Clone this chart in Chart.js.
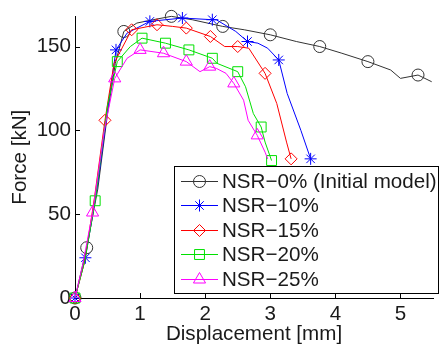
<!DOCTYPE html>
<html>
<head>
<meta charset="utf-8">
<script src="https://cdn.jsdelivr.net/npm/chart.js@4/dist/chart.umd.min.js"></script>
<style>
  html, body { margin: 0; padding: 0; background: #fff; }
  #wrap { width: 441px; height: 351px; }
</style>
</head>
<body>
<div id="wrap"><canvas id="forceChart" width="441" height="351"></canvas></div>
<script>
// displacement [mm] / force [kN]
const dispNSR0  = [0, 0.18, 0.35, 0.5, 0.62, 0.75, 0.95, 1.2, 1.48, 1.8, 2.27, 2.6, 3.0, 3.4, 3.76, 4.1, 4.5, 4.85, 5.0, 5.27, 5.48];
const forceNSR0 = [0, 30, 65, 110, 140, 159, 164, 166, 168, 166, 162, 160, 157, 153, 150, 146, 141, 136, 131, 133, 129];
const marksNSR0 = [0, 1, 5, 8, 10, 12, 14, 16, 19];

const dispNSR10  = [0, 0.16, 0.35, 0.5, 0.63, 0.8, 1.15, 1.4, 1.65, 2.11, 2.17, 2.47, 2.65, 2.81, 2.96, 3.13, 3.26, 3.47, 3.62];
const forceNSR10 = [0, 24, 68, 112, 148, 158, 165, 166, 167, 166, 166, 159, 153, 152, 149, 142, 122, 100, 83];
const marksNSR10 = [0, 1, 4, 6, 8, 9, 12, 15, 18];

const dispNSR15  = [0, 0.15, 0.3, 0.46, 0.6, 0.87, 1.26, 1.5, 1.71, 2.08, 2.3, 2.5, 2.67, 2.92, 3.1, 3.25, 3.32];
const forceNSR15 = [0, 22, 60, 106, 140, 160, 163, 162, 161, 156, 150, 150, 149, 134, 116, 93, 83];
const marksNSR15 = [0, 3, 5, 6, 8, 9, 11, 13, 16];

const dispNSR20  = [0, 0.15, 0.31, 0.5, 0.65, 0.85, 1.03, 1.39, 1.75, 2.11, 2.18, 2.5, 2.62, 2.74, 2.86, 2.92, 3.02];
const forceNSR20 = [0, 22, 58, 115, 141, 150, 155, 152, 148, 143, 140, 135, 126, 110, 102, 93, 82];
const marksNSR20 = [0, 2, 4, 6, 7, 8, 9, 11, 14, 16];

const dispNSR25  = [0, 0.12, 0.27, 0.45, 0.61, 0.8, 1.0, 1.36, 1.71, 1.92, 2.07, 2.17, 2.32, 2.44, 2.59, 2.66, 2.8, 2.92, 2.96];
const forceNSR25 = [0, 20, 51, 100, 131, 143, 148, 146, 141, 135, 138, 137, 134, 128, 118, 106, 97, 87, 83];
const marksNSR25 = [0, 2, 4, 6, 7, 8, 10, 13, 16];

const seriesLabels = ['NSR\u22120% (Initial model)', 'NSR\u221210%', 'NSR\u221215%', 'NSR\u221220%', 'NSR\u221225%'];
const xTicks = [0, 1, 2, 3, 4, 5];
const yTicks = [0, 50, 100, 150];

const FONT = '"Liberation Sans", Arial, Helvetica, sans-serif';
const FSIZE = 20.6;

function makeSeries(label, xs, ys, marks, color, style, size, order) {
    return {
        label: label,
        data: xs.map((x, i) => ({ x: x, y: ys[i] })),
        borderColor: color,
        borderWidth: 1,
        tension: 0,
        pointStyle: style,
        markerSize: size,
        pointRadius: ctx => marks.includes(ctx.dataIndex) ? size : 0,
        pointHoverRadius: 0,
        pointBorderColor: color,
        pointBackgroundColor: 'rgba(0,0,0,0)',
        pointBorderWidth: 1,
        clip: false,
        order: order
    };
}

// legend drawn inside the plot, like the MATLAB box
const boxLegend = {
    id: 'boxLegend',
    afterDraw(chart) {
        const ctx = chart.ctx;
        ctx.save();
        ctx.fillStyle = '#fff';
        ctx.fillRect(174.5, 166.5, 264, 127);
        ctx.strokeStyle = '#000';
        ctx.lineWidth = 1;
        ctx.strokeRect(174.5, 166.5, 264, 127);
        ctx.font = FSIZE + 'px ' + FONT;
        ctx.textBaseline = 'middle';
        chart.data.datasets.forEach((ds, i) => {
            const y = Math.round(181 + i * 24.4) + 0.5;
            ctx.strokeStyle = ds.borderColor;
            ctx.lineWidth = 1;
            ctx.beginPath();
            ctx.moveTo(181, y);
            ctx.lineTo(218, y);
            ctx.stroke();
            ctx.fillStyle = 'rgba(0,0,0,0)';
            Chart.helpers.drawPoint(ctx, { pointStyle: ds.pointStyle, radius: ds.markerSize, rotation: 0, borderWidth: 1 }, 199.5, y);
            ctx.fillStyle = '#1a1a1a';
            ctx.fillText(ds.label, 222, y + 1);
        });
        ctx.restore();
    }
};

// MATLAB style tick marks pointing into the plot
const innerTicks = {
    id: 'innerTicks',
    beforeDatasetsDraw(chart) {
        const { ctx, chartArea, scales } = chart;
        ctx.save();
        ctx.strokeStyle = '#000';
        ctx.lineWidth = 1;
        ctx.beginPath();
        xTicks.forEach(v => {
            const px = Math.round(scales.x.getPixelForValue(v)) + 0.5;
            ctx.moveTo(px, chartArea.bottom);
            ctx.lineTo(px, chartArea.bottom - 5);
        });
        yTicks.forEach(v => {
            const py = Math.round(scales.y.getPixelForValue(v)) + 0.5;
            ctx.moveTo(chartArea.left, py);
            ctx.lineTo(chartArea.left + 5, py);
        });
        ctx.stroke();
        ctx.restore();
    }
};

const ctx = document.getElementById('forceChart').getContext('2d');
new Chart(ctx, {
    type: 'line',
    data: {
        datasets: [
            makeSeries(seriesLabels[0], dispNSR0, forceNSR0, marksNSR0, '#333333', 'circle', 6, 4),
            makeSeries(seriesLabels[1], dispNSR10, forceNSR10, marksNSR10, '#0000ff', 'star', 6, 3),
            makeSeries(seriesLabels[2], dispNSR15, forceNSR15, marksNSR15, '#ff0000', 'rectRot', 6, 2),
            makeSeries(seriesLabels[3], dispNSR20, forceNSR20, marksNSR20, '#00e000', 'rect', 7, 1),
            makeSeries(seriesLabels[4], dispNSR25, forceNSR25, marksNSR25, '#ff00ff', 'triangle', 7, 0)
        ]
    },
    options: {
        responsive: false,
        animation: false,
        events: [],
        layout: { padding: { top: 12, right: 0, left: 0, bottom: 0 } },
        plugins: {
            legend: { display: false },
            tooltip: { enabled: false }
        },
        scales: {
            x: {
                type: 'linear',
                min: 0,
                max: 5.5,
                grid: { display: false, drawTicks: false },
                border: { color: '#000', width: 1 },
                afterBuildTicks: s => { s.ticks = xTicks.map(v => ({ value: v })); },
                afterFit: s => { s.height = 53; },
                ticks: { padding: 4, color: '#1a1a1a', font: { family: FONT, size: FSIZE } },
                title: {
                    display: true,
                    text: 'Displacement [mm]',
                    color: '#1a1a1a',
                    font: { family: FONT, size: FSIZE },
                    padding: { top: 0, bottom: 4 }
                }
            },
            y: {
                min: 0,
                max: 168,
                grid: { display: false, drawTicks: false },
                border: { color: '#000', width: 1 },
                afterBuildTicks: s => { s.ticks = yTicks.map(v => ({ value: v })); },
                afterFit: s => { s.width = 75; },
                ticks: { padding: 4, color: '#1a1a1a', font: { family: FONT, size: FSIZE } },
                title: {
                    display: true,
                    text: 'Force [kN]',
                    color: '#1a1a1a',
                    font: { family: FONT, size: FSIZE },
                    padding: { top: 8, bottom: 0 }
                }
            }
        }
    },
    plugins: [innerTicks, boxLegend]
});
</script>
</body>
</html>
